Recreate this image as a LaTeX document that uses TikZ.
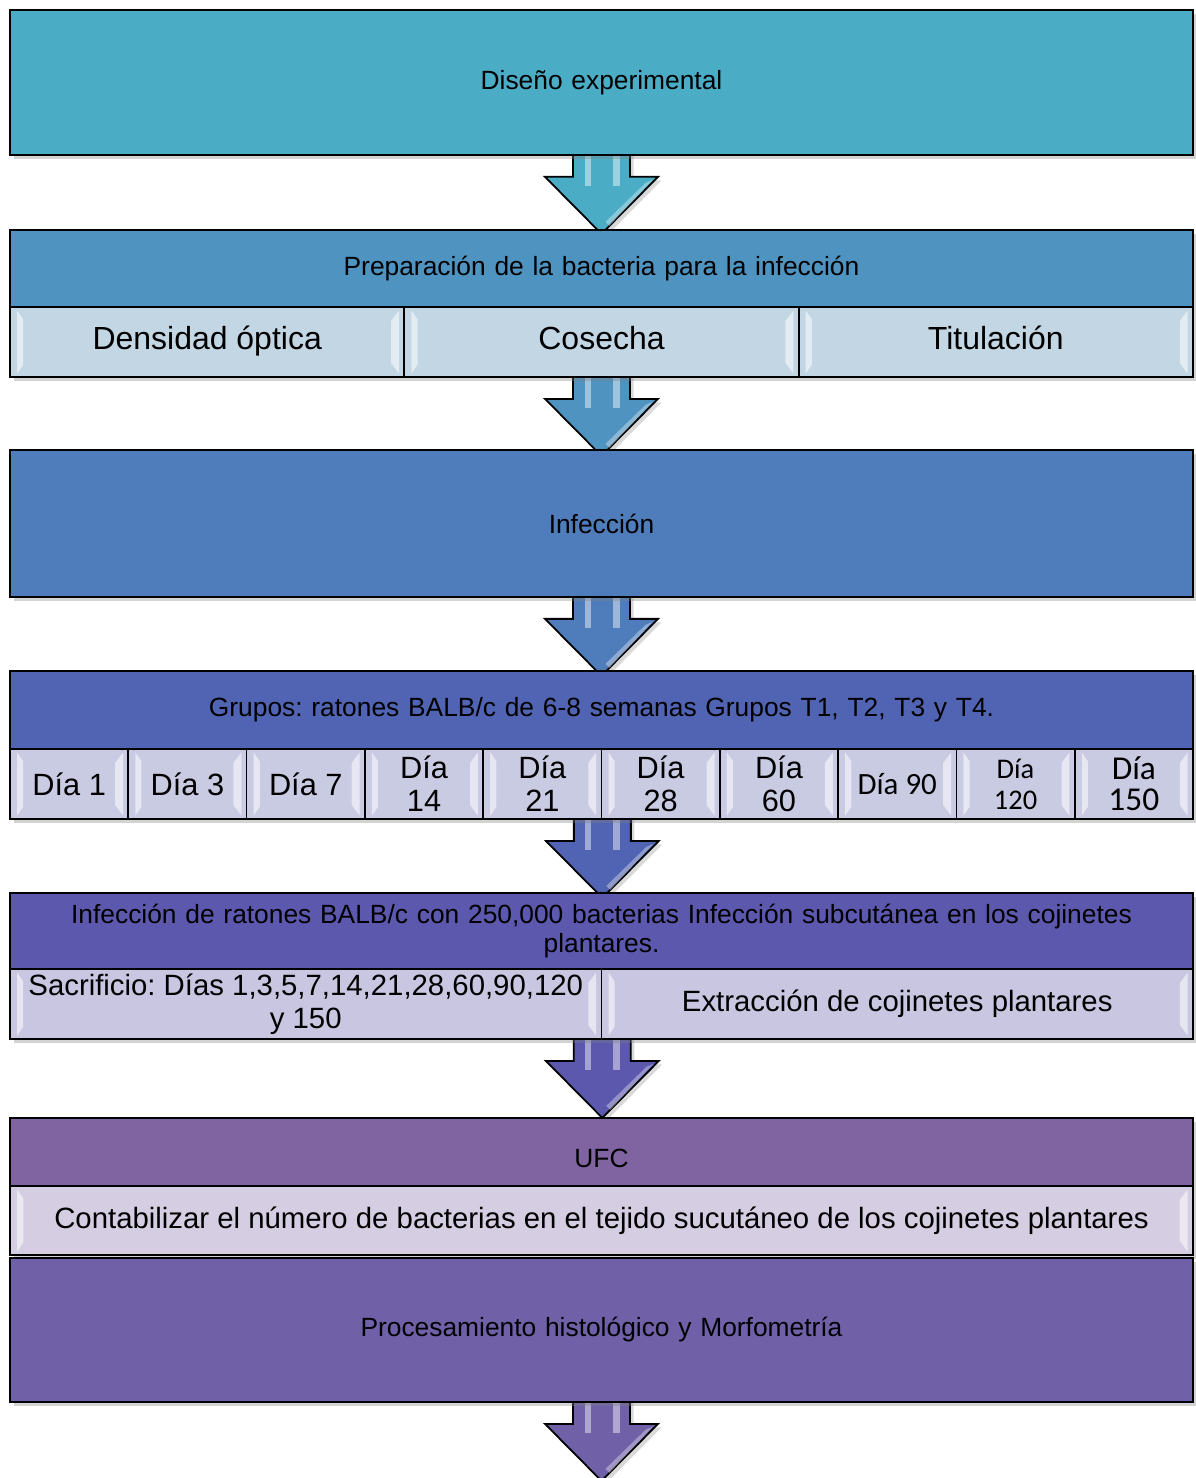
\documentclass[tikz,border=0pt]{standalone}
\usepackage{fontspec}
\setmainfont{Liberation Sans}
\newfontfamily\calibri{Carlito}
\usetikzlibrary{calc,shadows}
\pgfdeclarelayer{background}
\pgfsetlayers{background,main}
\frenchspacing

\definecolor{diseno}{HTML}{4BACC6}
\definecolor{prep}{HTML}{4F93C1}
\definecolor{prepclaro}{HTML}{C3D6E4}
\definecolor{infec}{HTML}{4F7DBB}
\definecolor{grupos}{HTML}{5064B3}
\definecolor{gruposclaro}{HTML}{C9CBE3}
\definecolor{sacri}{HTML}{5B58AD}
\definecolor{sacriclaro}{HTML}{C8C6E0}
\definecolor{ufc}{HTML}{8064A2}
\definecolor{ufcclaro}{HTML}{D5CDE1}
\definecolor{histo}{HTML}{7060A8}

\tikzset{
  caja/.style={draw=black, line width=1pt, minimum width=23.66cm, inner sep=0pt,
    text width=22.8cm, align=center, font=\fontsize{15}{16}\selectfont,
    drop shadow={shadow xshift=2pt, shadow yshift=-2pt, opacity=.35}},
  bisel/.style={path picture={
    \fill[white,opacity=.55] ([shift={(4pt,-2pt)}]path picture bounding box.north west)
      -- ([shift={(7.5pt,-7pt)}]path picture bounding box.north west)
      -- ([shift={(7.5pt,7pt)}]path picture bounding box.south west)
      -- ([shift={(4pt,2pt)}]path picture bounding box.south west) -- cycle;
    \fill[white,opacity=.55] ([shift={(-3pt,-2pt)}]path picture bounding box.north east)
      -- ([shift={(-7.5pt,-8pt)}]path picture bounding box.north east)
      -- ([shift={(-7.5pt,8pt)}]path picture bounding box.south east)
      -- ([shift={(-3pt,2pt)}]path picture bounding box.south east) -- cycle;}},
  celda/.style={draw=black, line width=1pt, minimum height=1.4cm, inner sep=0pt,
    align=center, font=\fontsize{16.7}{18.7}\selectfont, bisel,
    drop shadow={shadow xshift=2pt, shadow yshift=-2pt, opacity=.35}},
  una/.style={text height=0.9em, text depth=0pt},
  grande/.style={font=\fontsize{18.2}{20}\selectfont},
  dia/.style={font=\fontsize{17.5}{18.7}\selectfont},
  diacal/.style={font=\calibri\fontsize{17.6}{18.7}\selectfont},
  diacalch/.style={font=\calibri\fontsize{16.2}{17.6}\selectfont},
  diacalm/.style={font=\calibri\fontsize{19}{17.6}\selectfont}
}

% flecha gruesa bajo el punto #1
\newcommand{\flecha}[2]{%
  \begin{pgfonlayer}{background}
    \filldraw[draw=black, line width=1pt, fill=#2,
      drop shadow={shadow xshift=2pt, shadow yshift=-2pt, opacity=.3}]
      ($#1+(-28.5,-15)$) -- ($#1+(-28.5,21)$) -- ($#1+(-56.5,21)$)
      -- ($#1+(0,78)$) -- ($#1+(56.5,21)$) -- ($#1+(28.5,21)$)
      -- ($#1+(28.5,-15)$) -- cycle;
    \fill[white,opacity=.45] ($#1+(-17,-10)$) rectangle ($#1+(-11,30)$);
    \fill[white,opacity=.45] ($#1+(11,-10)$) rectangle ($#1+(18,30)$);
    \fill[white,opacity=.35] ($#1+(4,66)$) -- ($#1+(44,27)$)
      -- ($#1+(51,24)$) -- ($#1+(8,70)$) -- cycle;
  \end{pgfonlayer}}

\begin{document}
\begin{tikzpicture}[x=0.02cm, y=-0.02cm]
  \useasboundingbox (0,0) rectangle (1196,1478);

  \node[caja, fill=diseno, minimum height=2.9cm] (dis) at (601.5,82.5) {Diseño experimental};

  \node[caja, fill=prep, minimum height=1.54cm] (prep) at (601.5,268.5) {Preparación de la bacteria para la infección};
  \node[celda, una, grande, fill=prepclaro, minimum width=7.887cm] (dens) at (207.2,342) {Densidad óptica};
  \node[celda, una, grande, fill=prepclaro, minimum width=7.887cm] (cos) at (601.5,342) {Cosecha};
  \node[celda, una, grande, fill=prepclaro, minimum width=7.887cm] (tit) at (995.8,342) {Titulación};

  \node[caja, fill=infec, minimum height=2.94cm] (inf) at (601.5,523.5) {Infección};

  \node[caja, fill=grupos, minimum height=1.56cm] (gru) at (601.5,710) {Grupos: ratones BALB/c de 6-8 semanas Grupos T1, T2, T3 y T4.};
  \foreach \t/\s [count=\i from 0] in {Día 1/dia, Día 3/dia, Día 7/dia, Día\\14/dia, Día\\21/dia,
      Día\\28/dia, Día\\60/dia, Día 90/diacal, Día\\120/diacalch, Día\\150/diacalm}
    \node[celda, \s, fill=gruposclaro, minimum width=2.366cm] (d\i) at ({69.15+118.3*\i},784) {\t};

  \node[caja, fill=sacri, minimum height=1.52cm] (ino) at (601.5,931) {Infección de ratones BALB/c con 250,000 bacterias Infección subcutánea en los cojinetes\\plantares.};
  \node[celda, fill=sacriclaro, minimum width=11.83cm] (sac) at (305.75,1004) {Sacrificio: Días 1,3,5,7,14,21,28,60,90,120\\y 150};
  \node[celda, una, fill=sacriclaro, minimum width=11.83cm] (ext) at (897.25,1004) {Extracción de cojinetes plantares};

  \node[caja, fill=ufc, minimum height=1.36cm, text height=17.6pt, text depth=0pt] (ufc) at (601.5,1152) {UFC};
  \node[celda, una, fill=ufcclaro, minimum width=23.66cm, minimum height=1.38cm] (cont) at (601.5,1220.5) {Contabilizar el número de bacterias en el tejido sucutáneo de los cojinetes plantares};

  \node[caja, fill=histo, minimum height=2.88cm] (his) at (601.5,1330) {Procesamiento histológico y Morfometría};

  \flecha{(dis.south)}{diseno}
  \flecha{(cos.south)}{prep}
  \flecha{(inf.south)}{infec}
  \flecha{(d4.south east)}{grupos}
  \flecha{(sac.south east)}{sacri}
  \flecha{(his.south)}{histo}
\end{tikzpicture}
\end{document}
